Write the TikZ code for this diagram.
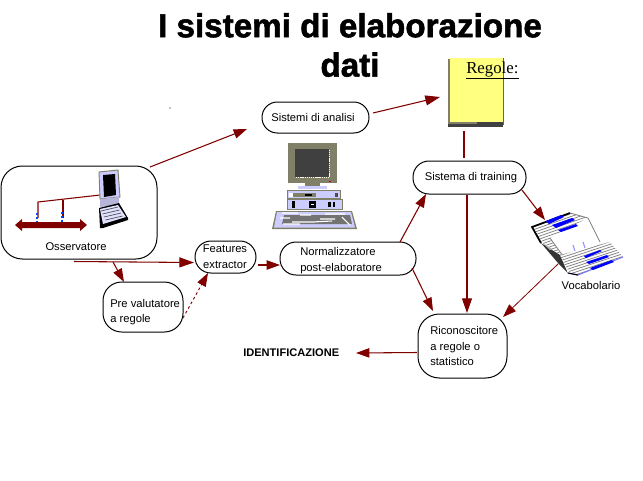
\documentclass[tikz,border=0pt]{standalone}
\usepackage{fontspec}
\setmainfont{Liberation Sans}
\newfontfamily\serifrm{Liberation Serif}
\newfontfamily\titlefont[FakeBold=1.6]{Liberation Sans Bold}
\usetikzlibrary{arrows.meta,calc}
\definecolor{wire}{RGB}{128,0,0}
\definecolor{lav}{RGB}{204,204,255}
\definecolor{olivegray}{RGB}{128,128,104}
\definecolor{noteyellow}{RGB}{255,255,128}
\tikzset{
 x=0.75pt,y=-0.75pt,
 rbox/.style={draw=black,line width=0.75pt,fill=white,rounded corners=#1},
 rbox/.default=12pt,
 lbl/.style={font=\fontsize{8.4}{11.8}\selectfont,inner sep=0pt,align=left},
 conn/.style={draw=wire,line width=0.8pt},
 arr/.style={conn,-{Triangle[length=11pt,width=7.5pt,fill=wire]}},
 arrs/.style={conn,-{Triangle[length=10pt,width=7pt,fill=wire]}},
}
\begin{document}
\begin{tikzpicture}
\useasboundingbox[fill=white] (0,0) rectangle (643,480);
% title
\node[font=\fontsize{24.9}{29.5}\selectfont\titlefont,inner sep=0pt,align=center] (title) at (350,45)
 {I sistemi di elaborazione\\dati};
\fill (170,108) circle (0.4pt);
% boxes
\path[rbox=16pt] (1,166) rectangle (157,259);
\coordinate (ossA) at (150,167);
\coordinate (ossB) at (74,261.5);
\coordinate (ossC) at (113,262);
\path[rbox=14pt] (103,282) rectangle (183,332);
\coordinate (preT) at (124,282);
\coordinate (preR) at (183,318);
\path[rbox=12pt] (195,241) rectangle (256,273);
\coordinate (feaL) at (194,262.5);
\coordinate (feaB) at (208,273);
\coordinate (feaR) at (258,265);
\path[rbox=12pt] (280,242) rectangle (416,275);
\coordinate (norL) at (280,265);
\coordinate (norT) at (400,242);
\coordinate (norB) at (412,268);
\path[rbox=11.5pt] (262,102) rectangle (369,133);
\coordinate (sisL) at (247,129);
\coordinate (sisR) at (373,113);
\path[rbox=12pt] (413,161) rectangle (526,194);
\coordinate (traT) at (464,158);
\coordinate (traB) at (467,195);
\coordinate (traBL) at (426,194);
\coordinate (traBR) at (522,190);
\path[rbox=16pt] (418,314) rectangle (507,378);
\coordinate (ricT) at (467,313);
\coordinate (ricTL) at (433,311);
\coordinate (ricTR) at (503,317);
\coordinate (ricL) at (417,352.5);
% texts
\node[lbl,anchor=center] (tOss) at (76,247) {Osservatore};
\node[lbl,anchor=west] (tPre) at (110,312) {Pre valutatore\\a regole};
\node[lbl,anchor=center,align=center] (tFea) at (225,256.5) {Features\\extractor};
\node[lbl,anchor=west] (tNor) at (300,260.5) {Normalizzatore\\post-elaboratore};
\node[lbl,anchor=center] (tSis) at (313,117) {Sistemi di analisi};
\node[lbl,anchor=center] (tTra) at (471,177.5) {Sistema di training};
\node[lbl,anchor=west] (tRic) at (430,346) {Riconoscitore\\a regole o\\statistico};
\node[lbl,anchor=center] (tVoc) at (591,285) {Vocabolario};
\node[lbl,anchor=west,font=\fontsize{8.3}{10}\selectfont\bfseries] (tId) at (243,353) {IDENTIFICAZIONE};
\coordinate (idR) at (356,353);
% note (Regole)
\fill[black!75] (448,122) -- (503,122) -- (503,127) -- (448,127) -- cycle;
\fill[olivegray] (447.5,59) rectangle (449.5,124);
\fill[noteyellow] (449.5,58) rectangle (503,122);
\fill[olivegray] (449.5,122) rectangle (477,123.5);
\fill[olivegray!80!black] (502.5,58) rectangle (503.5,125);
\node[anchor=base west,inner sep=0pt,font=\fontsize{12.6}{14}\selectfont\serifrm] (tReg) at (466,73) {\underline{Regole:}};
\coordinate (regB) at (464,131);
\coordinate (regL) at (440,97);
% observer internals
\draw[wire,line width=0.8pt] (38,218) -- (38,202) -- (100,195);
\draw[wire,line width=0.8pt] (63,218) -- (63,200);
\draw[blue!70!cyan,line width=0.8pt,dash pattern=on 1.5pt off 1.5pt] (37,213) -- (37,222);
\draw[blue!70!cyan,line width=0.8pt,dash pattern=on 1.5pt off 1.5pt] (62,212) -- (62,222);
\fill[wire] (15,225) -- (22,219) -- (22,222) -- (80,222) -- (80,219) -- (87,225) -- (80,231) -- (80,228) -- (22,228) -- (22,231) -- cycle;
% laptop
\fill[lav] (99,172) -- (118,170) -- (120,197) -- (100,199) -- cycle;
\draw[olivegray,line width=0.7pt] (99,172) -- (118,170) -- (120,197) -- (100,199) -- cycle;
\fill[black] (103,175) -- (115,174) -- (116,195) -- (104,197) -- cycle;
\fill[lav!70!gray] (100,199) -- (119,197) -- (119,205) -- (100,207) -- cycle;
\fill[black] (99,208) -- (119,203) -- (128,218) -- (128,220) -- (103,228) -- (100,228) -- cycle;
\fill[lav!60!white] (100,209) -- (118,205) -- (126,217) -- (103,224) -- cycle;
\foreach \k in {0,1,2,3}{\draw[black!70,line width=0.5pt] ($(101,211)+(\k*1.5,\k*3)$) -- ++(17,-4);}
% desktop computer
\fill[olivegray] (288,143) rectangle (337,183);
\fill[black!75] (295,149) rectangle (329,177);
\draw[white!90!yellow,line width=0.6pt,dash pattern=on 1pt off 0.6pt] (296,177.3) -- (329.5,177.3) -- (329.5,149);
\fill[red!80!black] (329,181) rectangle (331,182);
\fill[olivegray] (305,183) rectangle (320,186);
\fill[lav] (298,186) rectangle (327,189);
\fill[olivegray] (287,190) rectangle (341,199);
\fill[lav] (288,191) rectangle (340,198);
\fill[olivegray] (292,193) rectangle (316,197);
\fill[white] (289,193) rectangle (293,197);
\fill[black] (305,194) rectangle (312,196);
\fill[black!70] (335,193) rectangle (338,197);
\fill[olivegray] (287,199) rectangle (343,210);
\fill[lav] (288,200) rectangle (342,209);
\fill[black] (292,201) rectangle (295,208);
\fill[black] (309,201) rectangle (316,208);
\fill[black] (328,202) rectangle (331,207);
\fill[black] (333,202) rectangle (335,207);
\fill[white] (311,203.5) rectangle (314,205);
\fill[olivegray] (276,211) -- (352,211) -- (357,229) -- (272,229) -- cycle;
\fill[lav] (277,212) -- (351,212) -- (355,227.5) -- (274,227.5) -- cycle;
\fill[black!55] (284,215) -- (350,215) -- (352,224) -- (282,224) -- cycle;
\draw[white,line width=0.8pt] (282,213) -- (298,213) (300,215) -- (311,215) (325,214) -- (345,214)
 (280,218) -- (290,218) (292,222) -- (315,222) (320,219) -- (335,219) (342,217) -- (350,225)
 (312,222) -- (332,221) (283,224) -- (300,224);
% book: left stack
\fill[white] (532,227) -- (570,213) -- (588,218) -- (600,242) -- (563,256) -- (541,243) -- cycle;
\begin{scope}
\clip (532,227) -- (570,213) -- (588,218) -- (600,242) -- (563,256) -- (541,243) -- cycle;
\foreach \k in {0,...,13}{\draw[gray,line width=0.55pt] ($(530,228)+(\k*1.9,\k*2.2)$) -- ++(60,-21);}
\end{scope}
% book: facing page
\fill[white] (550,238) -- (588,218) -- (600,242) -- (563,256) -- cycle;
\draw[gray,line width=0.6pt] (550,238) -- (563,256);
\draw[gray,line width=0.6pt] (570,213) -- (588,218) -- (600,242);
% book: cover and spine
\draw[black,line width=1.3pt] (541,243) -- (532,227) -- (570,213);
\fill[black!80] (541,243) -- (560,255) -- (568,273) -- (558,263) -- cycle;
\fill[gray!60] (543,243) -- (552,249) -- (550,250) -- cycle;
% book: right stack
\fill[white] (560,255) -- (610,242) -- (623,257) -- (578,275) -- (568,273) -- cycle;
\begin{scope}
\clip (560,255) -- (610,242) -- (623,257) -- (578,275) -- (568,273) -- cycle;
\foreach \k in {0,...,9}{\draw[gray,line width=0.55pt] ($(558,256)+(\k*1.6,\k*2.2)$) -- ++(70,-23);}
\end{scope}
\draw[lav!60!blue,line width=0.8pt] (623,257) -- (578,275) -- (568,273);
\draw[black,line width=0.8pt] (568,273) -- (578,275);
% book: blue lettering
\fill[blue] (546,221) -- (561,215) -- (564,217) -- (549,224) -- cycle;
\fill[blue] (552,225) -- (572,218) -- (575,220) -- (556,228) -- cycle;
\fill[blue] (558,230) -- (576,224) -- (578,226) -- (561,232) -- cycle;
\fill[blue] (584,256) -- (600,250) -- (602,251) -- (586,258) -- cycle;
\fill[blue] (586,262) -- (607,255) -- (609,257) -- (589,264) -- cycle;
\fill[blue] (590,268) -- (612,260) -- (614,262) -- (593,270) -- cycle;
\draw[lav!70!blue,line width=0.8pt] (573,245) -- (575,251) (583,242) -- (585,248);
\coordinate (vocT) at (545,220);
\coordinate (vocB) at (558,264);
% connectors
\draw[arrs] (ossA) -- (sisL);
\draw[arr] (sisR) -- (regL);
\draw[conn] (regB) -- (traT);
\draw[arr] (traB) -- (ricT);
\draw[arrs] (norT) -- (traBL);
\draw[arrs] (norB) -- (ricTL);
\draw[arrs] (traBR) -- (vocT);
\draw[arrs,line width=0.6pt] (vocB) -- (ricTR);
\draw[arrs] (ricL) -- (idR);
\draw[arr] (ossB) -- (feaL);
\draw[arrs] (ossC) -- (preT);
\draw[arrs,dash pattern=on 2pt off 2pt,line width=0.7pt] (preR) -- (feaB);
\draw[arrs] (feaR) -- (norL);
\end{tikzpicture}
\end{document}
